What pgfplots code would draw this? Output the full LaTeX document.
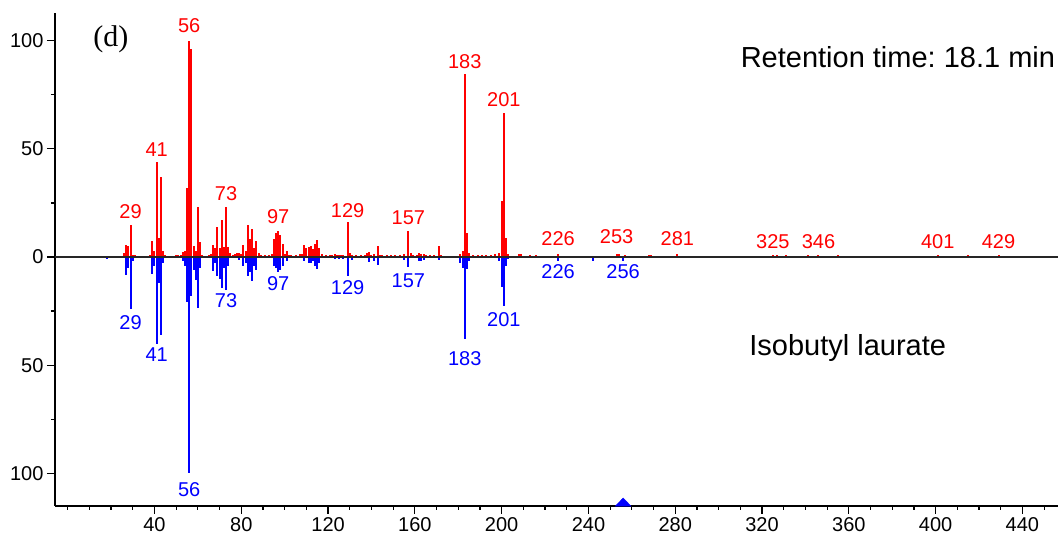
\documentclass[border=0pt]{standalone}
\usepackage{fontspec}
\setmainfont{Liberation Sans}
\newfontfamily\timesf{Liberation Serif}
\usepackage{pgfplots}
\usepackage{pgfplotstable}
\pgfplotsset{compat=1.18}
\frenchspacing

\pgfplotstableread{
x y
26 2
27 5.5
28 5
29 15
30 1
31 1
38 1
39 7.5
40 3
41 44
42 9
43 37
44 3
45 1
50 1
51 1
52 1
53 2.5
54 3
55 32
56 100
57 96
58 5
59 3
60 23
61 7
62 1
65 1
66 1.5
67 5.5
68 4
69 14
70 4
71 17
72 4.5
73 23
74 4.5
75 2
76 1
77 1.5
78 2
79 2
80 1.5
81 5.5
82 3
83 15
84 8.5
85 13
86 4
87 7.5
88 2
89 1
91 1
93 1
94 1.5
95 8.5
96 11
97 12
98 10
99 6
100 1.5
101 3
102 1
103 1
105 1
107 1.5
108 1.5
109 5.5
110 4
111 4.5
112 5
113 3.5
114 6
115 8
116 4
117 1.5
119 1
121 1
122 1
123 1.5
124 1
125 1
126 1
127 1
129 16
130 2
131 1
133 1
135 1
137 1
138 2
139 2.5
140 1
141 1.5
143 5
144 1
145 1
147 1
149 1
151 1
153 1
155 1.5
157 12
158 2
159 1
161 1
162 2
163 1.5
164 1.5
165 1
167 1
169 1
171 5
172 1
181 1.5
182 3
183 84.5
184 11
185 2
187 1
189 1
191 1
193 1
195 1
197 1.5
199 2
200 26
201 66.5
202 9
203 1.5
208 1.5
209 1.5
213 1
216 1
226 1.5
253 1.5
254 1.5
257 1
268 1
269 1
281 1.5
325 1
327 1
331 1
341 1
346 1
355 1
401 0.8
415 0.8
429 0.8
}\redpeaks

\pgfplotstableread{
x y
18 -1
27 -8.3
28 -5
29 -24
30 -2
39 -8
40 -4
41 -40
42 -12
43 -36
44 -3
53 -2
54 -4
55 -21
56 -100
57 -18
58 -6
59 -10.6
60 -23.7
61 -5
67 -6.6
68 -3
69 -9
70 -10
71 -14.5
72 -5
73 -15.2
74 -4
79 -1.5
81 -4
82 -3
83 -9
84 -7
85 -11
86 -4
87 -6
95 -4
96 -5
97 -7
98 -6
99 -4
101 -2
109 -2
111 -3
112 -3
113 -2
114 -4
115 -5.5
116 -3
123 -1
125 -1
127 -1
129 -9
131 -1.5
139 -2.5
141 -2
143 -3.5
155 -1.5
157 -4.5
162 -2
163 -2
164 -1.5
171 -1.5
181 -3
182 -5
183 -38
184 -5.5
185 -2
199 -2
200 -14
201 -22.5
202 -4
203 -1
226 -2
242 -2
256 -2
}\bluepeaks

\begin{document}
\begin{tikzpicture}
\begin{axis}[
  at={(0pt,0pt)}, anchor=south west,
  scale only axis, width=1003pt, height=493pt,
  xmin=-5.85, xmax=456.4, ymin=-115.1, ymax=112.8,
  axis x line*=bottom, axis y line*=left,
  axis line style={-, line width=1.5pt, black},
  xtick={40,80,...,440}, minor xtick={0,10,...,450},
  ytick={-100,-50,0,50,100}, yticklabels={100,50,0,50,100},
  minor ytick={-75,-25,25,75},
  tick align=outside, major tick length=8pt, minor tick length=4pt,
  tick style={black, line width=1.2pt},
  /pgf/number format/assume math mode=true,
  ticklabel style={font=\fontsize{20}{22}\selectfont},
  clip=false,
]
\addplot[ycomb, red, line width=2pt, mark=none] table[x=x,y=y] {\redpeaks};
\addplot[ycomb, blue, line width=2pt, mark=none] table[x=x,y=y] {\bluepeaks};
\addplot[black!85, line width=2pt, mark=none] coordinates {(-5.85,0) (456.4,0)};
\addplot[only marks, blue, mark=triangle*, mark size=9pt, mark options={yshift=2.6pt, yscale=0.6}] coordinates {(256,-115.1)};

\begin{scope}[every node/.style={inner sep=0pt, font=\fontsize{20}{22}\selectfont}]
\node[red] at (axis cs:29,20.8) {29};
\node[red] at (axis cs:41,49.5) {41};
\node[red] at (axis cs:56,106.8) {56};
\node[red] at (axis cs:73,29.1) {73};
\node[red] at (axis cs:97,18.5) {97};
\node[red] at (axis cs:129,21.5) {129};
\node[red] at (axis cs:157,18.2) {157};
\node[red] at (axis cs:183,90.2) {183};
\node[red] at (axis cs:201,72.6) {201};
\node[red] at (axis cs:226,8.3) {226};
\node[red] at (axis cs:253,9.2) {253};
\node[red] at (axis cs:281,8.3) {281};
\node[red] at (axis cs:325,7.1) {325};
\node[red] at (axis cs:346,7.1) {346};
\node[red] at (axis cs:401,7.1) {401};
\node[red] at (axis cs:429,7.1) {429};
\node[blue] at (axis cs:29,-30.3) {29};
\node[blue] at (axis cs:41,-45.3) {41};
\node[blue] at (axis cs:56,-107.3) {56};
\node[blue] at (axis cs:73,-20.3) {73};
\node[blue] at (axis cs:97,-12.2) {97};
\node[blue] at (axis cs:129,-14) {129};
\node[blue] at (axis cs:157,-11.1) {157};
\node[blue] at (axis cs:183,-46.8) {183};
\node[blue] at (axis cs:201,-29.1) {201};
\node[blue] at (axis cs:226,-6.8) {226};
\node[blue] at (axis cs:256,-6.8) {256};
\end{scope}

\node[anchor=base west, inner sep=0pt, font=\fontsize{29}{32}\selectfont] at (axis cs:310.1,87.7) {Retention time: 18.1 min};
\node[anchor=base west, inner sep=0pt, font=\fontsize{29}{32}\selectfont] at (axis cs:314.1,-45.3) {Isobutyl laurate};
\node[anchor=base west, inner sep=0pt, font=\timesf\fontsize{30}{32}\selectfont] at (axis cs:11.7,97.2) {(d)};
\end{axis}
\pgfresetboundingbox
\path[use as bounding box] (-55pt,-32pt) rectangle (1003pt,506pt);
\end{tikzpicture}
\end{document}
